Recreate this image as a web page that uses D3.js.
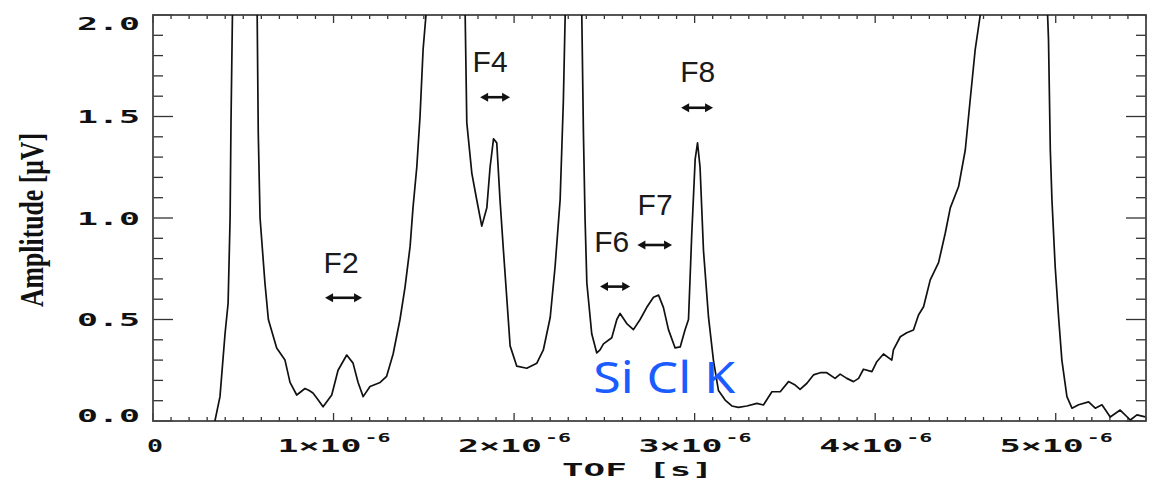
<!DOCTYPE html>
<html>
<head>
<meta charset="utf-8">
<script src="https://cdn.jsdelivr.net/npm/d3@7"></script>
<style>
    body { margin: 0; background: #fff; }
    svg { display: block; }
</style>
</head>
<body>
<svg id="chart" width="1168" height="481"></svg>
<script>
// time of flight in microseconds, amplitude in microvolts (values above 2 leave the frame)
var tof = [0.33, 0.343, 0.371, 0.399, 0.416, 0.427, 0.432, 0.44, 0.45,
    0.57, 0.577, 0.583, 0.593, 0.62, 0.639, 0.685, 0.731, 0.759, 0.796, 0.842, 0.865, 0.886, 0.91, 0.942,
    0.99, 1.025, 1.073, 1.108, 1.136, 1.164, 1.202, 1.258, 1.294, 1.33, 1.368, 1.396, 1.424, 1.44, 1.461,
    1.479, 1.496, 1.512, 1.52,
    1.72, 1.729, 1.738, 1.766, 1.793, 1.821, 1.849, 1.867, 1.886, 1.904, 1.922, 1.941, 1.96, 1.978, 2.015,
    2.07, 2.126, 2.162, 2.2, 2.227, 2.255, 2.273, 2.283, 2.29,
    2.37, 2.375, 2.384, 2.393, 2.403, 2.43, 2.458, 2.476, 2.495, 2.541, 2.569, 2.587, 2.624, 2.661, 2.698,
    2.735, 2.772, 2.8, 2.827, 2.855, 2.892, 2.92, 2.947, 2.966, 2.984, 3.003, 3.016, 3.03, 3.049, 3.077,
    3.104, 3.132, 3.169, 3.206, 3.243, 3.289, 3.345, 3.381, 3.428, 3.474, 3.52, 3.557, 3.584, 3.622,
    3.658, 3.695, 3.732, 3.778, 3.806, 3.843, 3.88, 3.908, 3.935, 3.982, 4.009, 4.046, 4.092, 4.101,
    4.139, 4.175, 4.212, 4.24, 4.268, 4.305, 4.351, 4.388, 4.416, 4.462, 4.499, 4.526, 4.554, 4.582, 4.59,
    4.95, 4.955, 4.96, 4.97, 4.979, 4.997, 5.016, 5.034, 5.062, 5.09, 5.127, 5.182, 5.219, 5.256, 5.302,
    5.357, 5.413, 5.45, 5.496];
var amp = [-0.05, 0.0, 0.12, 0.43, 0.58, 1.0, 1.47, 2.0, 2.3,
    2.3, 2.0, 1.42, 1.0, 0.68, 0.5, 0.36, 0.3, 0.19, 0.128, 0.16, 0.15, 0.138, 0.11, 0.07,
    0.128, 0.25, 0.325, 0.285, 0.19, 0.12, 0.17, 0.19, 0.22, 0.33, 0.5, 0.66, 0.86, 1.05, 1.25,
    1.5, 1.83, 2.0, 2.3,
    2.3, 2.0, 1.47, 1.22, 1.09, 0.96, 1.05, 1.25, 1.39, 1.37, 1.09, 0.84, 0.6, 0.37, 0.27,
    0.26, 0.285, 0.35, 0.51, 0.76, 1.09, 1.58, 2.0, 2.3,
    2.3, 2.0, 1.42, 1.0, 0.68, 0.43, 0.335, 0.35, 0.38, 0.41, 0.5, 0.53, 0.48, 0.45, 0.5,
    0.56, 0.61, 0.62, 0.56, 0.45, 0.36, 0.365, 0.45, 0.5, 0.92, 1.29, 1.37, 1.25, 0.84, 0.51,
    0.3, 0.15, 0.103, 0.074, 0.067, 0.074, 0.087, 0.079, 0.144, 0.144, 0.194, 0.177, 0.156, 0.186,
    0.227, 0.238, 0.238, 0.21, 0.231, 0.21, 0.194, 0.21, 0.255, 0.243, 0.292, 0.33, 0.3, 0.35,
    0.415, 0.435, 0.448, 0.522, 0.563, 0.695, 0.78, 0.925, 1.05, 1.155, 1.335, 1.58, 1.83, 2.0, 2.3,
    2.3, 2.0, 1.88, 1.335, 1.09, 0.76, 0.51, 0.3, 0.12, 0.063, 0.08, 0.094, 0.063, 0.08, 0.02,
    0.054, 0.005, 0.03, 0.02];

var yTicks = [0, 0.5, 1.0, 1.5, 2.0];
var yTickLabels = ["0.0", "0.5", "1.0", "1.5", "2.0"];
var xTicks = [0, 1, 2, 3, 4, 5];
var xTickLabels = ["0", "1×10", "2×10", "3×10", "4×10", "5×10"];

// peak markers: label, label position, arrow span
var peakNames = ["F2", "F4", "F6", "F7", "F8"];
var peakLabelX = [1.042, 1.867, 2.541, 2.781, 3.017];
var peakLabelY = [0.729, 1.719, 0.833, 1.015, 1.67];
var arrowFrom = [0.953, 1.812, 2.476, 2.683, 2.925];
var arrowTo = [1.158, 1.978, 2.643, 2.875, 3.102];
var arrowY = [0.607, 1.595, 0.662, 0.867, 1.543];

var cfg = {
    left: 153, right: 1146, top: 15, bottom: 421,
    mono: "'DejaVu Sans Mono', monospace",
};

var svg = d3.select("#chart");
var x = d3.scaleLinear().domain([0, 5.5]).range([cfg.left, cfg.right]);
var y = d3.scaleLinear().domain([0, 2]).range([cfg.bottom, cfg.top]);

function stretchedText(g, str, px, py, len, size, anchor) {
    return g.append("text")
        .attr("x", px)
        .attr("y", py)
        .attr("textLength", len)
        .attr("lengthAdjust", "spacingAndGlyphs")
        .attr("text-anchor", anchor)
        .style("font-family", cfg.mono)
        .style("font-weight", "bold")
        .style("font-size", size + "px")
        .attr("fill", "#111")
        .text(str);
}

function drawAxes() {
    var g = svg.append("g").attr("stroke", "#333").attr("stroke-width", 1.3);

    // minor ticks every 0.1 on both axes, drawn inward on all four sides
    var yMinor = d3.range(0, 2.001, 0.1);
    var xMinor = d3.range(0, 5.501, 0.1);
    for (let v of yMinor) {
        var major = Math.abs(v * 2 - Math.round(v * 2)) < 1e-6;
        var len = major ? 20 : 10;
        g.append("line").attr("x1", cfg.left).attr("x2", cfg.left + len)
            .attr("y1", y(v)).attr("y2", y(v));
        g.append("line").attr("x1", cfg.right).attr("x2", cfg.right - len)
            .attr("y1", y(v)).attr("y2", y(v));
    }
    for (let v of xMinor) {
        var majorX = Math.abs(v - Math.round(v)) < 1e-6;
        var lenX = majorX ? 8 : 4;
        g.append("line").attr("x1", x(v)).attr("x2", x(v))
            .attr("y1", cfg.bottom).attr("y2", cfg.bottom - lenX);
        g.append("line").attr("x1", x(v)).attr("x2", x(v))
            .attr("y1", cfg.top).attr("y2", cfg.top + lenX);
    }

    svg.append("rect")
        .attr("x", cfg.left)
        .attr("y", cfg.top)
        .attr("width", cfg.right - cfg.left)
        .attr("height", cfg.bottom - cfg.top)
        .attr("fill", "none")
        .attr("stroke", "#444")
        .attr("stroke-width", 1.8);

    // y tick labels, end labels pulled inside the axis like IDL does
    yTicks.forEach(function (v, i) {
        var base = Math.min(Math.max(y(v) + 6.5, cfg.top + 15), cfg.bottom + 0.7);
        stretchedText(svg, yTickLabels[i], 140, base, 63, 18, "end");
    });

    // x tick labels with the exponent as a separate raised text
    xTicks.forEach(function (v, i) {
        if (v === 0) {
            stretchedText(svg, "0", x(v) + 2, 452, 16, 18, "middle");
            return;
        }
        stretchedText(svg, xTickLabels[i], x(v) - 56, 452, 84, 18, "start");
        stretchedText(svg, "-6", x(v) + 31, 442, 26, 13, "start");
    });

    stretchedText(svg, "TOF [s]", 562, 476, 151, 18, "start");

    svg.append("text")
        .attr("transform", "translate(43,220) rotate(-90)")
        .attr("text-anchor", "middle")
        .attr("textLength", 174)
        .attr("lengthAdjust", "spacingAndGlyphs")
        .style("font-family", "'Liberation Serif', serif")
        .style("font-weight", "bold")
        .style("font-size", "34px")
        .attr("fill", "#111")
        .text("Amplitude [μV]");
}

function drawCurve() {
    svg.append("clipPath").attr("id", "plot-clip")
        .append("rect")
        .attr("x", cfg.left)
        .attr("y", cfg.top)
        .attr("width", cfg.right - cfg.left)
        .attr("height", cfg.bottom - cfg.top);

    var line = d3.line()
        .x(function (d, i) { return x(tof[i]); })
        .y(function (d) { return y(d); });

    svg.append("path")
        .datum(amp)
        .attr("clip-path", "url(#plot-clip)")
        .attr("d", line)
        .attr("fill", "none")
        .attr("stroke", "#111")
        .attr("stroke-width", 1.7)
        .attr("stroke-linejoin", "round");
}

function drawPeaks() {
    var g = svg.append("g");
    peakNames.forEach(function (name, i) {
        g.append("text")
            .attr("x", x(peakLabelX[i]))
            .attr("y", y(peakLabelY[i]))
            .attr("text-anchor", "middle")
            .style("font-family", "'Liberation Sans', Arial, sans-serif")
            .style("font-size", "30px")
            .attr("fill", "#1a1a1a")
            .text(name);

        var x1 = x(arrowFrom[i]), x2 = x(arrowTo[i]), ay = y(arrowY[i]);
        var head = 8, half = 4.5;
        g.append("line")
            .attr("x1", x1 + head - 1).attr("x2", x2 - head + 1)
            .attr("y1", ay).attr("y2", ay)
            .attr("stroke", "#111")
            .attr("stroke-width", 2.6);
        g.append("path")
            .attr("d", "M" + x1 + "," + ay + "L" + (x1 + head) + "," + (ay - half) +
                "L" + (x1 + head) + "," + (ay + half) + "Z")
            .attr("fill", "#111");
        g.append("path")
            .attr("d", "M" + x2 + "," + ay + "L" + (x2 - head) + "," + (ay - half) +
                "L" + (x2 - head) + "," + (ay + half) + "Z")
            .attr("fill", "#111");
    });

    // element label in blue
    svg.append("text")
        .attr("x", x(2.438))
        .attr("y", y(0.14))
        .attr("textLength", 142)
        .attr("lengthAdjust", "spacingAndGlyphs")
        .style("font-family", "'Noto Sans', sans-serif")
        .style("font-size", "44px")
        .attr("fill", "#1a5cff")
        .text("Si Cl K");
}

drawAxes();
drawCurve();
drawPeaks();
</script>
</body>
</html>
